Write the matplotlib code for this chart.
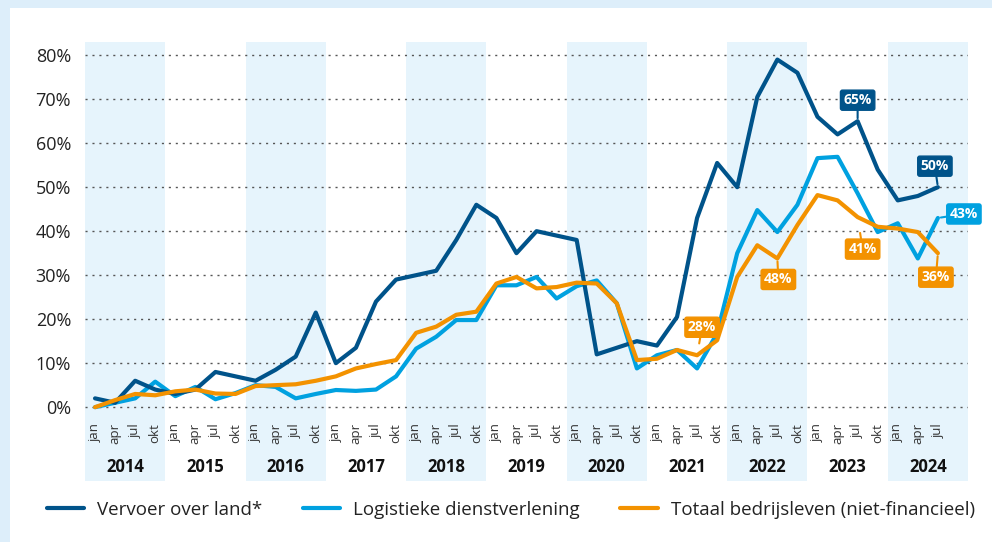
import matplotlib
matplotlib.use("Agg")
import matplotlib.pyplot as plt
from matplotlib.lines import Line2D
from matplotlib.patches import Rectangle

years = list(range(2014, 2025))
months = ['jan', 'apr', 'jul', 'okt']

vervoer = [2, 1, 6, 4, 3, 4, 8, 7, 6, 8.5, 11.5, 21.5, 10, 13.5, 24, 29, 30, 31, 38, 46,
           43, 35, 40, 39, 38, 12, 13.5, 15, 14, 20.5, 43, 55.5, 50, 70.5, 79, 76, 66, 62, 65, 54,
           47, 48, 50]
logistiek = [0, 1, 2, 5.8, 2.5, 4.6, 1.8, 3.2, 5, 4.6, 2, 3, 3.9, 3.7, 4, 7, 13.3, 16, 19.8, 19.8,
             27.7, 27.7, 29.6, 24.7, 27.5, 28.8, 23.6, 8.8, 11.8, 13, 8.8, 16.8, 35, 44.8, 39.8, 46, 56.6, 56.9, 48.6, 39.8,
             41.8, 33.8, 43]
totaal = [0, 1.6, 3, 2.7, 3.6, 4, 3.1, 3, 4.8, 5, 5.2, 6, 7, 8.8, 9.8, 10.7, 16.9, 18.3, 21, 21.7,
          28.1, 29.6, 27, 27.3, 28.3, 28.1, 23.6, 10.7, 11, 13, 11.8, 15.2, 29.6, 36.8, 33.8, 41.4, 48.2, 47, 43.2, 41,
          40.6, 39.8, 35]

# labels: (series, index, text, dx px, dy px, gap px)
labels = [
    ('vervoer', 38, '65%', 0, 21, 3),
    ('vervoer', 42, '50%', -3, 21, 3),
    ('logistiek', 42, '43%', 26, 4, 3),
    ('totaal', 38, '41%', 5, -32, 16),
    ('totaal', 42, '36%', -2, -24, 3),
    ('totaal', 34, '48%', 1, -21, 3),
    ('totaal', 30, '28%', 5, 28, 12),
]

c_dark = '#00538a'
c_light = '#00a1e0'
c_orange = '#f39200'
c_band = '#e6f4fc'
colors = {'vervoer': c_dark, 'logistiek': c_light, 'totaal': c_orange}
series = {'vervoer': vervoer, 'logistiek': logistiek, 'totaal': totaal}

plt.rcParams['font.family'] = ['Open Sans', 'DejaVu Sans']

W, H = 992, 542
fig = plt.figure(figsize=(W / 100, H / 100), dpi=100)

# light blue frame at left/top
fig.add_artist(Rectangle((0, 0), 10 / W, 1, transform=fig.transFigure, color='#ddeefa', lw=0, zorder=0))
fig.add_artist(Rectangle((0, 1 - 8 / H), 1, 8 / H, transform=fig.transFigure, color='#ddeefa', lw=0, zorder=0))

ax_l, ax_r, ax_t, ax_b = 85, 968, 42, 412
ax = fig.add_axes([ax_l / W, 1 - ax_b / H, (ax_r - ax_l) / W, (ax_b - ax_t) / H])
ax.set_facecolor('none')

n = len(vervoer)
x = list(range(n))
ax.set_xlim(-0.5, 43.5)
ax.set_ylim(-1.1, 83)

band_bottom = -(481 - ax_b) / (ax_b - ax_t)
for k, yr in enumerate(years):
    if k % 2 == 0:
        ax.axvspan(4 * k - 0.5, 4 * k + 3.5, ymin=band_bottom, ymax=1, color=c_band,
                   lw=0, zorder=0, clip_on=False)
    ax.text(4 * k + 1.5, -(467 - ax_b) / (ax_b - ax_t), str(yr), transform=ax.get_xaxis_transform(),
            ha='center', va='center', fontsize=12, fontweight='bold', color='#111')

for v in range(0, 81, 10):
    ax.axhline(v, color='#555', lw=1, ls=(0, (1.5, 3.5)), zorder=1)

ax.plot(x, vervoer, color=c_dark, lw=3, solid_joinstyle='round', solid_capstyle='round', zorder=4)
ax.plot(x, logistiek, color=c_light, lw=3, solid_joinstyle='round', solid_capstyle='round', zorder=3)
ax.plot(x, totaal, color=c_orange, lw=3, solid_joinstyle='round', solid_capstyle='round', zorder=5)

for key, i, txt, dx, dy, gap in labels:
    c = colors[key]
    ax.annotate(txt, xy=(i, series[key][i]), xytext=(dx, dy), textcoords='offset pixels',
                ha='center', va='center', fontsize=10, fontweight='bold', color='white',
                bbox=dict(boxstyle='round,pad=0.22,rounding_size=0.15', fc=c, ec=c),
                arrowprops=dict(arrowstyle='-', color=c, lw=1.5, shrinkA=0, shrinkB=gap * 0.72),
                zorder=6)

ax.set_yticks(range(0, 81, 10))
ax.set_yticklabels([f'{v}%' for v in range(0, 81, 10)], fontsize=13, color='#222')
ax.set_xticks(x)
ax.set_xticklabels([months[i % 4] for i in x], rotation=90, fontsize=9.5, color='#333')
ax.tick_params(axis='both', length=0)
ax.tick_params(axis='y', pad=10)
ax.tick_params(axis='x', pad=8)
for s in ax.spines.values():
    s.set_visible(False)

handles = [Line2D([], [], color=c_dark, lw=3, solid_capstyle='round'),
           Line2D([], [], color=c_light, lw=3, solid_capstyle='round'),
           Line2D([], [], color=c_orange, lw=3, solid_capstyle='round')]
fig.legend(handles, ['Vervoer over land*', 'Logistieke dienstverlening', 'Totaal bedrijsleven (niet-financieel)'],
           loc='center', bbox_to_anchor=(0.515, 1 - 510 / H), ncol=3, frameon=False,
           fontsize=13.5, handlelength=2.0, handletextpad=0.7, columnspacing=2.15, labelcolor='#222')

fig.savefig('out.png', dpi=100, facecolor='white')
